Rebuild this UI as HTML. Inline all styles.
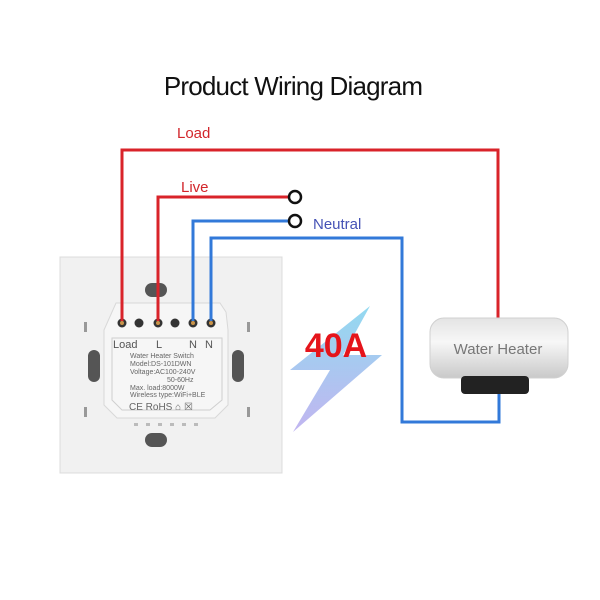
<!DOCTYPE html>
<html><head><style>
body{margin:0;background:#fff;}
svg{display:block}
</style></head><body>
<svg width="600" height="600" viewBox="0 0 600 600" xmlns="http://www.w3.org/2000/svg" font-family="Liberation Sans, sans-serif">
<defs>
<linearGradient id="bolt" x1="0" y1="0" x2="0" y2="1">
<stop offset="0" stop-color="#7fd3ee"/><stop offset="1" stop-color="#b7a8ee"/></linearGradient>
<linearGradient id="heat" x1="0" y1="0" x2="0" y2="1">
<stop offset="0" stop-color="#e4e4e4"/><stop offset="0.4" stop-color="#f7f7f7"/><stop offset="1" stop-color="#c9c9c9"/></linearGradient>
</defs>
<text x="293" y="95" text-anchor="middle" font-size="26" fill="#111" letter-spacing="-0.8">Product Wiring Diagram</text>
<text x="177" y="138" font-size="15" fill="#d2262b">Load</text>
<text x="181" y="192" font-size="15" fill="#d2262b">Live</text>
<text x="313" y="229" font-size="15" fill="#4552b5">Neutral</text>

<!-- switch plate -->
<rect x="60" y="257" width="222" height="216" fill="#f1f1f1" stroke="#dcdcdc"/>
<rect x="145" y="283" width="22" height="14" rx="7" fill="#555"/>
<rect x="145" y="433" width="22" height="14" rx="7" fill="#555"/>
<rect x="88" y="350" width="12" height="32" rx="6" fill="#555"/>
<rect x="232" y="350" width="12" height="32" rx="6" fill="#555"/>
<rect x="84" y="322" width="3" height="10" fill="#999"/><rect x="247" y="322" width="3" height="10" fill="#999"/>
<rect x="84" y="407" width="3" height="10" fill="#999"/><rect x="247" y="407" width="3" height="10" fill="#999"/>
<!-- module -->
<path d="M112 312 L116 303 L220 303 L226 312 L228 330 L228 405 L215 418 L117 418 L104 405 L104 330 Z" fill="#f6f6f6" stroke="#d8d8d8"/>
<path d="M112 338 L222 338 L222 400 L210 410 L122 410 L112 400 Z" fill="none" stroke="#cfcfcf"/>
<g fill="#333"><circle cx="122" cy="323" r="4.5"/><circle cx="139" cy="323" r="4.5"/><circle cx="158" cy="323" r="4.5"/><circle cx="175" cy="323" r="4.5"/><circle cx="193" cy="323" r="4.5"/><circle cx="211" cy="323" r="4.5"/></g>
<g fill="#c9944a"><circle cx="122" cy="323" r="2"/><circle cx="158" cy="323" r="2"/><circle cx="193" cy="323" r="2"/><circle cx="211" cy="323" r="2"/></g>
<g font-size="11" fill="#555"><text x="113" y="348">Load</text><text x="156" y="348">L</text><text x="189" y="348">N</text><text x="205" y="348">N</text></g>
<g font-size="7" fill="#666"><text x="130" y="358">Water Heater Switch</text><text x="130" y="366">Model:DS-101DWN</text><text x="130" y="374">Voltage:AC100-240V</text><text x="167" y="382">50-60Hz</text><text x="130" y="390">Max. load:8000W</text><text x="130" y="397">Wireless type:WiFi+BLE</text></g>
<text x="129" y="410" font-size="10" fill="#666">CE RoHS ⌂ ☒</text>
<g fill="#bbb"><rect x="134" y="423" width="4" height="3"/><rect x="146" y="423" width="4" height="3"/><rect x="158" y="423" width="4" height="3"/><rect x="170" y="423" width="4" height="3"/><rect x="182" y="423" width="4" height="3"/><rect x="194" y="423" width="4" height="3"/></g>

<!-- wires -->
<g fill="none" stroke-width="3">
<polyline points="122,321 122,150 498,150 498,318" stroke="#d9232a"/>
<polyline points="158,321 158,197 289,197" stroke="#d9232a"/>
<polyline points="193,321 193,221 289,221" stroke="#3279d9"/>
<polyline points="211,321 211,238 402,238 402,422 499,422 499,393" stroke="#3279d9"/>
</g>
<circle cx="295" cy="197" r="6" fill="#fff" stroke="#111" stroke-width="2.5"/>
<circle cx="295" cy="221" r="6" fill="#fff" stroke="#111" stroke-width="2.5"/>

<!-- bolt -->
<polygon points="370,306 290,370 330,370 293,432 382,355 343,355" fill="url(#bolt)" opacity="0.85"/>
<text x="336" y="357" text-anchor="middle" font-size="34" font-weight="bold" fill="#e5141b">40A</text>

<!-- heater -->
<rect x="430" y="318" width="138" height="60" rx="14" fill="url(#heat)" stroke="#d0d0d0"/>
<text x="498" y="354" text-anchor="middle" font-size="15" fill="#777">Water Heater</text>
<rect x="461" y="376" width="68" height="18" rx="4" fill="#222"/>
</svg>
</body></html>
